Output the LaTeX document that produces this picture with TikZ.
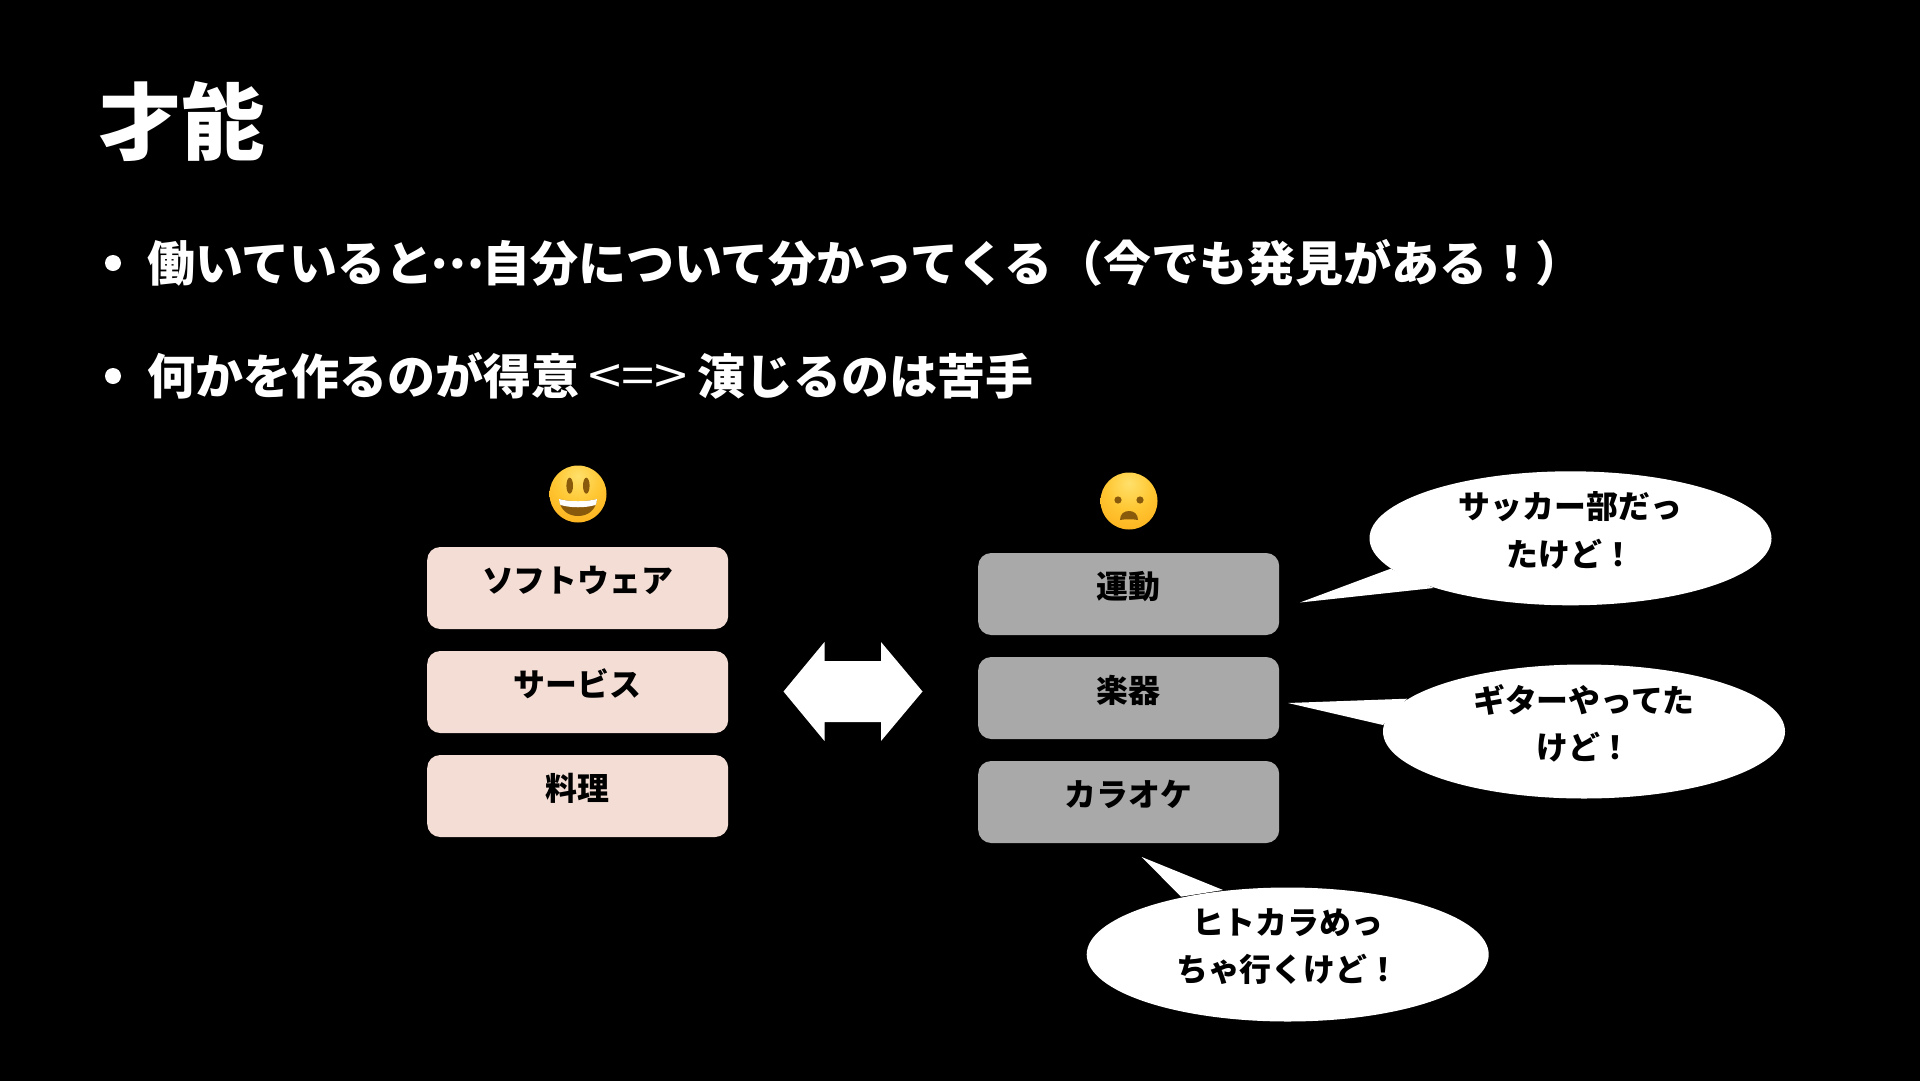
\documentclass[tikz,border=0pt]{standalone}
\usepackage{fontspec}
\usepackage{tikz}
\usetikzlibrary{shapes.geometric}
\setmainfont{Noto Sans CJK JP}[BoldFont={* Black}]
\newfontfamily\jpreg{Noto Sans CJK JP}
\newfontfamily\jpbold{Noto Sans CJK JP Bold}
\definecolor{pinkfill}{HTML}{F3DDD5}
\definecolor{grayfill}{HTML}{A9A9A9}
\definecolor{facedark}{HTML}{8A5A0C}
\pgfdeclareradialshading{facegrad}{\pgfpoint{0bp}{16bp}}{
  rgb(0bp)=(1,0.88,0.42);
  rgb(20bp)=(1,0.78,0.20);
  rgb(42bp)=(0.99,0.68,0.10);
  rgb(60bp)=(0.95,0.55,0.04);
  rgb(100bp)=(0.95,0.55,0.04)}
\tikzset{
  titletext/.style={anchor=base west,inner sep=0pt,text=white,font=\fontsize{84}{84}\selectfont\bfseries},
  bodytext/.style={anchor=base west,inner sep=0pt,text=white,font=\fontsize{48.2}{48.2}\selectfont\bfseries},
  bulletdot/.style={circle,fill=white,inner sep=0pt,minimum size=16bp},
  stackbox/.style={rectangle,rounded corners=13bp,minimum width=301bp,minimum height=82bp,inner sep=0pt,text=black,font=\fontsize{32}{32}\selectfont\bfseries},
  pinkbox/.style={stackbox,fill=pinkfill},
  graybox/.style={stackbox,fill=grayfill},
  bubble/.style={ellipse,fill=white,minimum width=402bp,minimum height=134bp,inner sep=0pt},
  bubbletext/.style={inner sep=0pt,text=black,align=center,yshift=8bp,font=\fontsize{32}{47.8}\selectfont\bfseries},
  facebase/.style={circle,minimum size=57bp,inner sep=0pt,shading=facegrad}
}
\newcommand{\boxlabel}[1]{\smash{\raisebox{-4.5bp}{#1}}}
\begin{document}
\begin{tikzpicture}[x=1bp,y=-1bp]
\useasboundingbox (0,0) rectangle (1920,1080);
\fill[black] (-5,-5) rectangle (1925,1085);

\node[titletext] (title) at (98,153) {才能};
\node[bulletdot] (bulletA) at (113,263) {};
\node[bodytext] (lineA) at (147,281) {働いていると\makebox[48.2bp][c]{\jpbold\raisebox{13bp}{…}}自分について分かってくる\hspace{3bp}（今でも発見がある！）};
\node[bulletdot] (bulletB) at (113,376) {};
\node[bodytext] (lineB) at (147,394) {何かを作るのが得意\makebox[118bp][c]{\jpreg\mdseries\scalebox{1.24}[1.05]{<=>}}演じるのは苦手};

% faces
\node[facebase] (faceA) at (578,494) {};
\fill[facedark] (569.7,485.7) ellipse [x radius=3.3,y radius=8];
\fill[facedark] (586.3,485.7) ellipse [x radius=3.3,y radius=8];
\fill[facedark] (559,499) .. controls (570,502) and (586,502) .. (597,499)
  .. controls (596,510) and (588,516) .. (578,516) .. controls (568,516) and (560,510) .. (559,499) -- cycle;
\fill[white] (559,499) .. controls (570,502) and (586,502) .. (597,499)
  .. controls (597,502) and (596,504) .. (595.5,505) .. controls (585,508) and (571,508) .. (560.5,505)
  .. controls (560,504) and (559,502) .. (559,499) -- cycle;

\node[facebase] (faceB) at (1129,501) {};
\fill[facedark] (1118,500) circle (3.6);
\fill[facedark] (1140,500) circle (3.6);
\fill[facedark] (1120,520) .. controls (1120,514) and (1124,511) .. (1129,511)
  .. controls (1134,511) and (1138,514) .. (1138,520)
  .. controls (1133,519) and (1125,519) .. (1120,520) -- cycle;

% left stack
\node[pinkbox] (soft) at (577.7,588) {\boxlabel{ソフトウェア}};
\node[pinkbox] (serv) at (577.7,692) {\boxlabel{サービス}};
\node[pinkbox] (cook) at (577.7,796) {\boxlabel{料理}};

% right stack
\node[graybox] (sport) at (1128.7,594) {\boxlabel{運動}};
\node[graybox] (instr) at (1128.7,698) {\boxlabel{楽器}};
\node[graybox] (kara) at (1128.7,802) {\boxlabel{カラオケ}};

% double arrow
\fill[white] (783.5,691.5) -- (824.5,642) -- (824.5,661) -- (881,661) -- (881,642) -- (922.5,691.5)
  -- (881,741) -- (881,722) -- (824.5,722) -- (824.5,741) -- cycle;

% callouts
\coordinate (tipA) at (1300,602.5);
\coordinate (tipB) at (1288,703);
\coordinate (tipC) at (1141.7,857);
\fill[white] (tipA) -- (1390.7,568.7) -- (1433.7,588) -- cycle;
\fill[white] (tipB) -- (1407,698.7) -- (1383,725) -- cycle;
\fill[white] (tipC) -- (1223,890) -- (1181,896.7) -- cycle;
\node[bubble] (bubA) at (1570.5,538.3) {};
\node[bubble] (bubB) at (1584,731.5) {};
\node[bubble] (bubC) at (1287.7,954.5) {};
\node[bubbletext] (txtA) at (bubA) {サッカー部だっ\\たけど！};
\node[bubbletext] (txtB) at (bubB) {ギターやってた\\けど！};
\node[bubbletext] (txtC) at (bubC) {ヒトカラめっ\\ちゃ行くけど！};
\end{tikzpicture}
\end{document}
